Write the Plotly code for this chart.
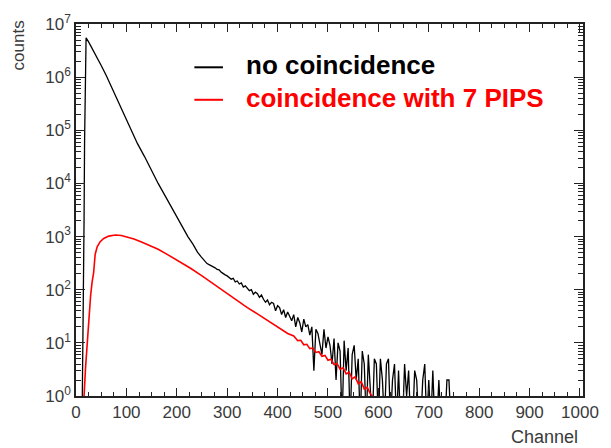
import plotly.graph_objects as go

# ---------------- data ----------------
ch_black_head = [12, 13, 14, 15, 16, 17, 18, 19, 20, 25, 30, 40, 50, 60, 70, 80, 90, 100,
                 110, 122, 136, 150, 163, 178, 192, 207, 222, 232, 241, 248, 255]
cnt_black_head = [0, 2, 10, 80, 2000, 60000, 800000, 3500000, 5500000, 4600000, 3800000,
                  2570000, 1660000, 1070000, 660000, 400000, 245000, 151000, 95000, 56000,
                  32000, 17000, 10000, 5600, 3200, 1800, 1000, 720, 510, 420, 355]
ch_black_tail = list(range(260, 761, 4))
cnt_black_tail = [310, 296, 285, 270, 258, 240, 236, 214, 200, 190,
                  182, 170, 158, 164, 140, 146, 128, 134, 112, 118,
                  104, 96, 100, 82, 90, 84, 72, 80, 66, 58,
                  64, 52, 58, 55, 40, 50, 46, 34, 42, 30,
                  38, 32, 26, 34, 20, 30, 24, 16, 28, 20,
                  22, 14, 20, 3, 18, 15, 10, 6, 18, 8,
                  13, 9, 4, 12, 2, 10, 7, 0, 11, 3,
                  8, 0, 6, 9, 2, 5, 0, 7, 4, 0,
                  6, 1, 0, 5, 4, 0, 5, 2, 0, 4,
                  5, 0, 2, 4, 0, 3, 0, 0, 4, 1,
                  3, 0, 0, 3, 2, 0, 0, 2, 4, 0,
                  2, 0, 3, 0, 0, 2, 0, 0, 0, 2,
                  2, 0, 0, 0, 0, 0]

ch_red = [15, 16, 19, 22, 25, 29, 32, 35, 38, 42, 48, 55, 65, 78, 90, 100, 115, 130, 145,
          163, 180, 200, 228, 250, 275, 300, 320, 340, 360, 385, 400, 420, 432, 440, 446,
          452, 458, 464, 470, 476, 482, 488, 494, 500, 506, 512, 518, 524, 530, 536, 542,
          548, 554, 560, 566, 572, 578, 584, 590, 597, 604]
cnt_red = [0, 1, 3.5, 9, 25, 78, 140, 210, 460, 640, 800, 920, 1020, 1070, 1050, 1000, 900,
           790, 690, 575, 468, 363, 251, 182, 123, 83, 62, 46, 35, 24.5, 20, 15, 13.5, 11,
           11.2, 9.2, 9.4, 7.8, 8.0, 6.6, 6.8, 5.6, 5.8, 4.7, 4.9, 3.9, 4.1, 3.2, 3.4, 2.6,
           2.8, 2.1, 2.3, 1.7, 1.85, 1.35, 1.45, 1.1, 0.95, 0.7, 0]

series_names = ["no coincidence", "coincidence with 7 PIPS"]
x_tick_vals = [0, 100, 200, 300, 400, 500, 600, 700, 800, 900, 1000]
x_tick_text = ["0", "100", "200", "300", "400", "500", "600", "700", "800", "900", "1000"]
y_exponents = [0, 1, 2, 3, 4, 5, 6, 7]
y_tick_text = ["10<sup>%d</sup>" % e for e in y_exponents]
x_title = "Channel"
y_title = "counts"

ZERO_FLOOR = 0.3  # empty bins drop below the axis


def floor_zero(vals):
    return [v if v > 0 else ZERO_FLOOR for v in vals]


ch_black = ch_black_head + ch_black_tail
cnt_black = floor_zero(cnt_black_head + cnt_black_tail)
cnt_red_p = floor_zero(cnt_red)

y_tick_vals = [10 ** e for e in y_exponents]
y_minor = [k * 10 ** e for e in y_exponents[:-1] for k in range(2, 10)]
x_minor = [v for v in range(0, 1001, 25) if v % 100 != 0]

fig = go.Figure()
fig.add_trace(go.Scatter(x=ch_black, y=cnt_black, mode="lines", name=series_names[0],
                         line=dict(color="black", width=1.3), showlegend=False))
fig.add_trace(go.Scatter(x=ch_red, y=cnt_red_p, mode="lines", name=series_names[1],
                         line=dict(color="#ff0000", width=1.6), showlegend=False))

tick_font = dict(family="Liberation Sans, Arial, sans-serif", size=17, color="#3a3a3a")

fig.update_xaxes(range=[0, 1006], showline=True, linecolor="#222", linewidth=1.5,
                 mirror="allticks", ticks="inside", ticklen=8, tickwidth=1.2, tickcolor="#222",
                 tickmode="array", tickvals=x_tick_vals, ticktext=x_tick_text,
                 tickfont=tick_font, showgrid=False, zeroline=False,
                 minor=dict(ticks="inside", ticklen=4, tickwidth=1.2, tickcolor="#222",
                            tickmode="array", tickvals=x_minor, showgrid=False))
fig.update_yaxes(type="log", range=[0, 7], showline=True, linecolor="#222", linewidth=1.5,
                 mirror="allticks", ticks="inside", ticklen=9, tickwidth=1.2, tickcolor="#222",
                 tickmode="array", tickvals=y_tick_vals, ticktext=y_tick_text,
                 tickfont=tick_font, showgrid=False, zeroline=False,
                 minor=dict(ticks="inside", ticklen=5, tickwidth=1, tickcolor="#222",
                            tickmode="array", tickvals=y_minor, showgrid=False))

L, R, T, B = 76, 21, 18, 52
W, H = 611, 448
pw, ph = W - L - R, H - T - B


def px(xp):
    return (xp - L) / pw


def py(yp):
    return (H - B - yp) / ph


legend_font = dict(family="Liberation Sans, Arial, sans-serif", size=26)
fig.add_shape(type="line", xref="paper", yref="paper", x0=px(196), x1=px(225),
              y0=py(62), y1=py(62), line=dict(color="black", width=2))
fig.add_shape(type="line", xref="paper", yref="paper", x0=px(196), x1=px(225),
              y0=py(95), y1=py(95), line=dict(color="#ff0000", width=2))
fig.add_annotation(xref="paper", yref="paper", x=px(246), y=py(60), xanchor="left",
                   yanchor="middle", showarrow=False, text="<b>%s</b>" % series_names[0],
                   font=dict(color="black", **legend_font))
fig.add_annotation(xref="paper", yref="paper", x=px(246), y=py(93), xanchor="left",
                   yanchor="middle", showarrow=False, text="<b>%s</b>" % series_names[1],
                   font=dict(color="#ff0000", **legend_font))
fig.add_annotation(xref="paper", yref="paper", x=px(18), y=py(40), xanchor="center",
                   yanchor="middle", showarrow=False, text=y_title, textangle=-90,
                   font=dict(family="Liberation Sans, Arial, sans-serif", size=17, color="#3a3a3a"))
fig.add_annotation(xref="paper", yref="paper", x=px(551), y=py(438), xanchor="center",
                   yanchor="middle", showarrow=False, text=x_title,
                   font=dict(family="Liberation Sans, Arial, sans-serif", size=18, color="#3a3a3a"))

fig.update_layout(width=W, height=H, margin=dict(l=L, r=R, t=T, b=B),
                  paper_bgcolor="white", plot_bgcolor="white", showlegend=False)

fig.write_html("out.html")
